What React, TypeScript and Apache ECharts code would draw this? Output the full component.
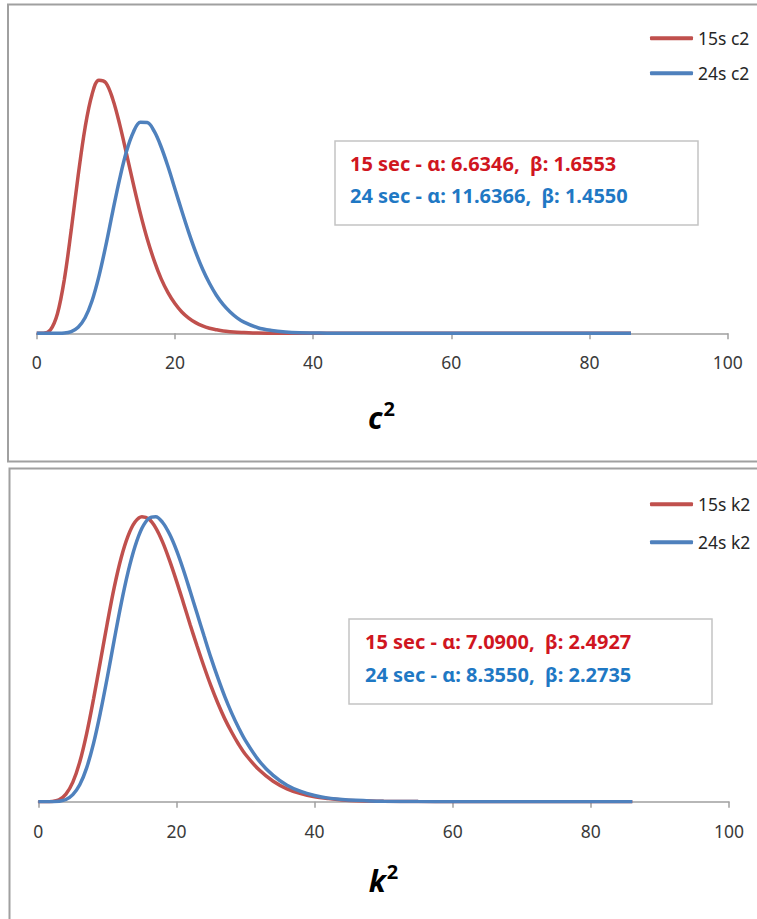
import React, { useEffect, useRef } from "react";
import * as echarts from "echarts";

// x positions sampled along the curves
const xValues = [
  0, 1, 2, 3, 4, 5, 6, 7, 8, 9, 10, 11, 12, 13, 14, 15, 16, 17, 18, 19, 20,
  21, 22, 23, 24, 25, 26, 27, 28, 29, 30, 32, 34, 36, 38, 40, 42, 44, 46, 48,
  50, 55, 60, 65, 70, 75, 80, 86,
];

// top panel (c2)
const red15c2 = [
  0, 0.00005, 0.0014, 0.0077, 0.0212, 0.0407, 0.0621, 0.0809, 0.0939, 0.0996,
  0.0986, 0.0922, 0.0823, 0.0706, 0.0586, 0.0472, 0.0371, 0.0286, 0.0215,
  0.016, 0.0117, 0.0084, 0.006, 0.0042, 0.0029, 0.002, 0.0014, 0.0009, 0.0006,
  0.0004, 0.0003, 0.0001, 0.00005, 0.00002, 0, 0, 0, 0, 0, 0, 0, 0, 0, 0, 0, 0,
  0, 0,
];
const blue24c2 = [
  0, 0, 0, 0.00001, 0.0001, 0.0007, 0.0024, 0.0061, 0.0127, 0.0224, 0.0345,
  0.0479, 0.0607, 0.0716, 0.0792, 0.083, 0.0829, 0.0795, 0.0734, 0.0656,
  0.0569, 0.0481, 0.0397, 0.032, 0.0253, 0.0197, 0.015, 0.0113, 0.0084, 0.0061,
  0.0044, 0.0022, 0.0011, 0.0005, 0.0002, 0.0001, 0.00005, 0.00002, 0, 0, 0, 0,
  0, 0, 0, 0, 0, 0,
];

// bottom panel (k2)
const red15k2 = [
  0, 0, 0.00005, 0.0004, 0.0017, 0.0044, 0.0089, 0.0153, 0.0231, 0.0316,
  0.0402, 0.0482, 0.0548, 0.0597, 0.0628, 0.064, 0.0635, 0.0615, 0.0583,
  0.0542, 0.0496, 0.0447, 0.0397, 0.0349, 0.0303, 0.026, 0.0221, 0.0186,
  0.0156, 0.0129, 0.0106, 0.0071, 0.0046, 0.0029, 0.0018, 0.0011, 0.0007,
  0.0004, 0.0002, 0.00014, 0.00008, 0.00002, 0, 0, 0, 0, 0, 0,
];
const blue24k2 = [
  0, 0, 0.00001, 0.0001, 0.0005, 0.0016, 0.0038, 0.0076, 0.0131, 0.0201,
  0.028, 0.0364, 0.0445, 0.0516, 0.0573, 0.0614, 0.0636, 0.064, 0.0627,
  0.0601, 0.0565, 0.0521, 0.0472, 0.0422, 0.0372, 0.0323, 0.0278, 0.0236,
  0.0199, 0.0166, 0.0137, 0.0091, 0.0059, 0.0037, 0.0023, 0.0014, 0.0008,
  0.0005, 0.0003, 0.00016, 0.00009, 0.00002, 0, 0, 0, 0, 0, 0,
];

const seriesNamesTop = ["15s c2", "24s c2"];
const seriesNamesBottom = ["15s k2", "24s k2"];
const annotTop = ["15 sec - α: 6.6346,  β: 1.6553", "24 sec - α: 11.6366,  β: 1.4550"];
const annotBottom = ["15 sec - α: 7.0900,  β: 2.4927", "24 sec - α: 8.3550,  β: 2.2735"];

const RED = "#C0504D";
const BLUE = "#4F81BD";
const TXT_RED = "#D0161F";
const TXT_BLUE = "#1F78C4";
const FONT = "Noto Sans";

const pairs = (ys: number[]) => xValues.map((x, i) => [x, ys[i]]);

export default function App() {
  const ref = useRef<HTMLDivElement>(null);
  useEffect(() => {
    if (!ref.current) return;
    const chart = echarts.init(ref.current, undefined, { renderer: "svg" });

    const xAxisBase = (gridIndex: number) => ({
      type: "value" as const,
      gridIndex,
      min: 0,
      max: 100,
      interval: 20,
      axisLine: { show: true, onZero: false, lineStyle: { color: "#a0a0a0", width: 1.5 } },
      axisTick: { show: true, length: 6, lineStyle: { color: "#a0a0a0", width: 1.5 } },
      axisLabel: {
        margin: 20,
        fontSize: 17.5,
        lineHeight: 18,
        color: "#3a3a3a",
        fontFamily: FONT,
      },
      splitLine: { show: false },
    });

    const lineSeries = (name: string, color: string, data: number[][], idx: number) => ({
      type: "line" as const,
      name,
      xAxisIndex: idx,
      yAxisIndex: idx,
      data,
      smooth: 0.35,
      showSymbol: false,
      symbol: "none",
      lineStyle: { color, width: 3.5 },
      itemStyle: { color },
      emphasis: { disabled: true },
    });

    const titleText = (x: number, y: number, letter: string) => ({
      type: "text" as const,
      x,
      y,
      style: {
        text: `{a|${letter}}{b|2}`,
        align: "center",
        verticalAlign: "middle",
        rich: {
          a: {
            fontSize: 30,
            fontWeight: "bold",
            fontStyle: "italic",
            fontFamily: FONT,
            fill: "#000",
            lineHeight: 34,
            verticalAlign: "bottom",
          },
          b: {
            fontSize: 20,
            fontWeight: "bold",
            fontFamily: FONT,
            fill: "#000",
            lineHeight: 22,
            verticalAlign: "top",
            padding: [0, 0, 0, 1],
          },
        },
      },
    });

    const annotation = (
      x: number,
      y: number,
      w: number,
      h: number,
      tx: number,
      ty1: number,
      ty2: number,
      lines: string[]
    ) => [
      {
        type: "rect" as const,
        shape: { x, y, width: w, height: h },
        style: { fill: "#fff", stroke: "#c4c4c4", lineWidth: 1.5 },
        z: 10,
      },
      {
        type: "text" as const,
        x: tx,
        y: ty1,
        z: 11,
        style: {
          text: lines[0],
          fill: TXT_RED,
          fontSize: 20,
          fontWeight: "bold",
          fontFamily: FONT,
          verticalAlign: "middle",
        },
      },
      {
        type: "text" as const,
        x: tx,
        y: ty2,
        z: 11,
        style: {
          text: lines[1],
          fill: TXT_BLUE,
          fontSize: 20,
          fontWeight: "bold",
          fontFamily: FONT,
          verticalAlign: "middle",
        },
      },
    ];

    chart.setOption({
      animation: false,
      backgroundColor: "#fff",
      grid: [
        { left: 36.7, top: 28.3, width: 691, height: 305 },
        { left: 38.3, top: 490, width: 690.7, height: 311.7 },
      ],
      xAxis: [xAxisBase(0), xAxisBase(1)],
      yAxis: [
        { type: "value", gridIndex: 0, min: 0, max: 0.12, show: false },
        { type: "value", gridIndex: 1, min: 0, max: 0.07, show: false },
      ],
      legend: [
        {
          data: seriesNamesTop,
          orient: "vertical",
          left: 645,
          top: 23.3,
          itemWidth: 43,
          itemHeight: 4,
          itemGap: 15,
          icon: "roundRect",
          textStyle: { fontSize: 17.5, lineHeight: 20, color: "#262626", fontFamily: FONT },
          selectedMode: false,
        },
        {
          data: seriesNamesBottom,
          orient: "vertical",
          left: 645,
          top: 489.3,
          itemWidth: 43,
          itemHeight: 4,
          itemGap: 18,
          icon: "roundRect",
          textStyle: { fontSize: 17.5, lineHeight: 20, color: "#262626", fontFamily: FONT },
          selectedMode: false,
        },
      ],
      series: [
        lineSeries(seriesNamesTop[0], RED, pairs(red15c2), 0),
        lineSeries(seriesNamesTop[1], BLUE, pairs(blue24c2), 0),
        lineSeries(seriesNamesBottom[0], RED, pairs(red15k2), 1),
        lineSeries(seriesNamesBottom[1], BLUE, pairs(blue24k2), 1),
      ],
      graphic: [
        {
          type: "rect",
          shape: { x: 8, y: 4.5, width: 800, height: 457 },
          style: { fill: "none", stroke: "#a0a0a0", lineWidth: 2 },
          z: -1,
        },
        {
          type: "rect",
          shape: { x: 9.5, y: 468.5, width: 800, height: 480 },
          style: { fill: "none", stroke: "#a0a0a0", lineWidth: 2 },
          z: -1,
        },
        ...annotation(335, 141, 363, 84, 350, 163.3, 195.5, annotTop),
        ...annotation(349, 619, 363, 85, 365, 641.7, 674, annotBottom),
        titleText(381.5, 415, "c"),
        titleText(383.5, 878, "k"),
      ],
    });

    return () => chart.dispose();
  }, []);

  return (
    <div
      ref={ref}
      style={{ position: "fixed", left: 0, top: 0, width: 757, height: 919, background: "#fff" }}
    />
  );
}
